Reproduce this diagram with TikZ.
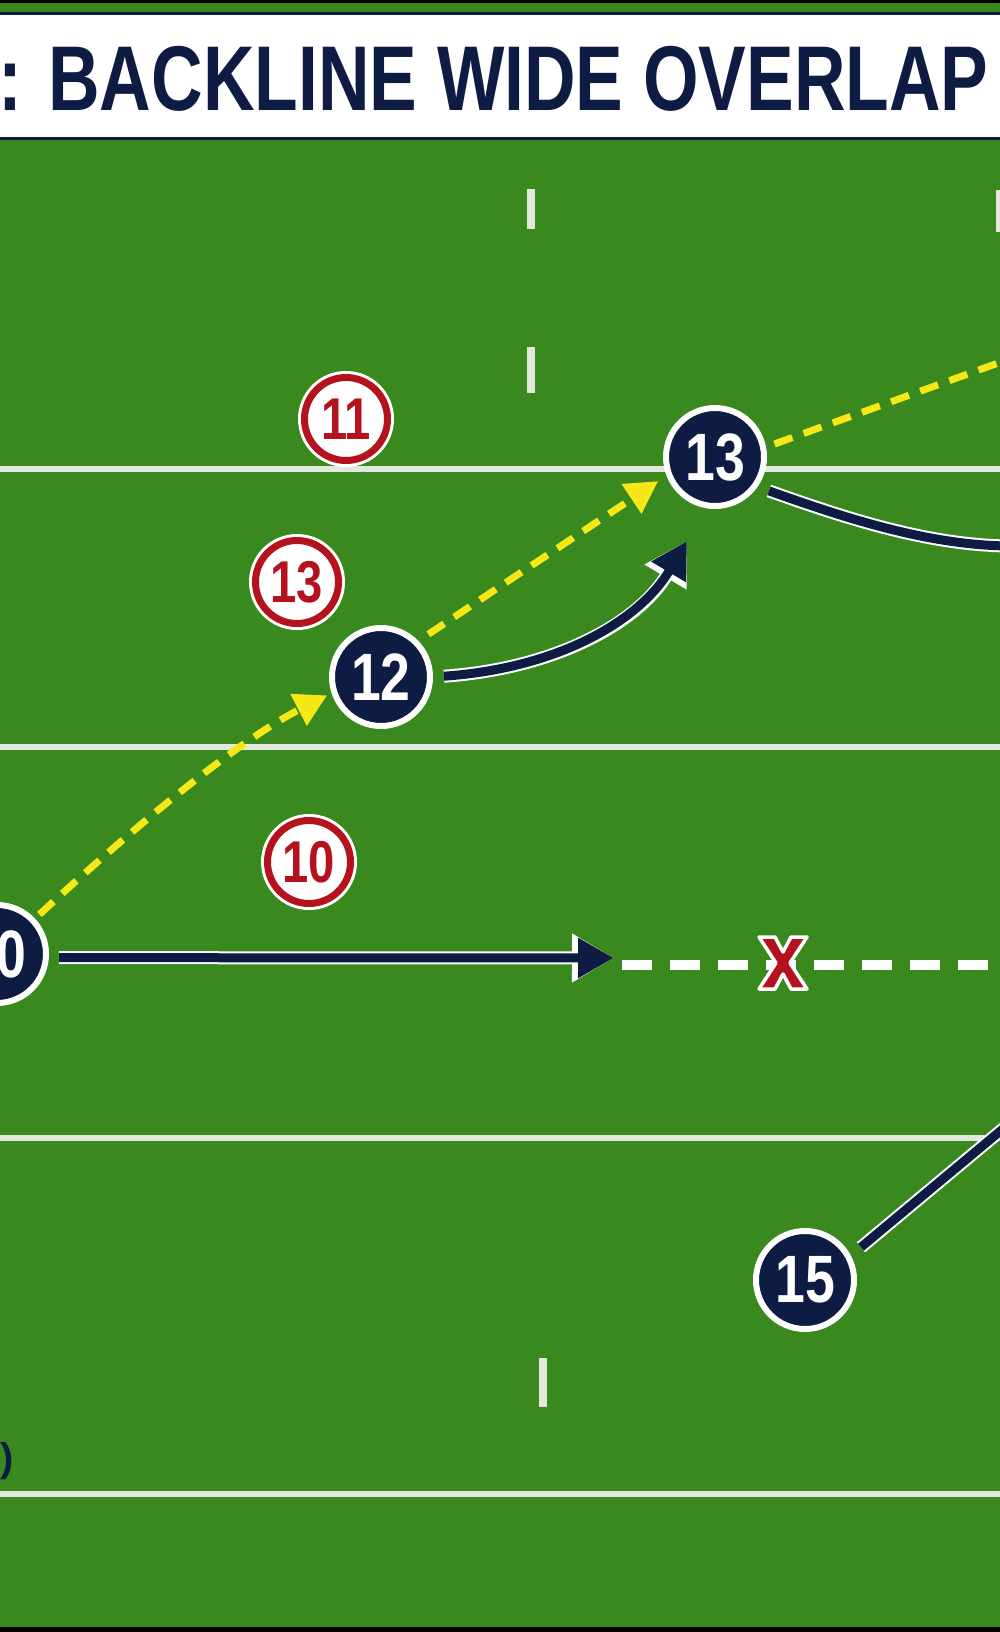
\documentclass[tikz,border=0pt]{standalone}
\usepackage{fontspec}
\setmainfont{Liberation Sans}
\usetikzlibrary{arrows.meta}

\definecolor{turf}{RGB}{57,137,30}
\definecolor{navy}{RGB}{14,27,66}
\definecolor{redteam}{RGB}{180,18,28}
\definecolor{passyellow}{RGB}{246,232,22}
\definecolor{chalk}{RGB}{226,232,220}

\newcommand{\narrownum}[1]{\scalebox{0.8}[1]{#1}}

\begin{document}
\begin{tikzpicture}[x=1pt,y=-1pt,
	attack/.style = {circle, fill=navy, draw=white, line width=6pt, inner sep=0pt,
		minimum size=98pt, text=white, font=\bfseries\fontsize{67}{67}\selectfont},
	defend/.style = {circle, fill=white, draw=redteam, line width=7pt, inner sep=0pt,
		minimum size=83pt, text=redteam, font=\bfseries\fontsize{59}{59}\selectfont,
		preaction={draw=white, line width=13pt}},
	pass/.style = {draw=passyellow, line width=7pt, dash pattern=on 19pt off 12pt},
	pass tip/.style = {-{Triangle[length=32pt,width=34pt]}},
	run/.style = {draw=navy, line width=9pt, preaction={draw=white, line width=13pt}},
	run arrow/.style = {draw=navy, line width=9pt, -{Triangle[length=36pt,width=38pt]},
		preaction={draw=white, line width=13pt, -{Triangle[length=42pt,width=46pt]}}},
	chalk line/.style = {draw=chalk, line width=6pt},
	touch dash/.style = {draw=white, line width=10pt, dash pattern=on 30pt off 18pt}]

	\useasboundingbox (0,0) rectangle (1000,1632);
	\clip (0,0) rectangle (1000,1632);

	% pitch
	\fill[turf] (0,0) rectangle (1000,1632);
	\foreach \y in {469,747,1138,1494}
		\draw[chalk line] (0,\y) -- (1000,\y);
	\foreach \x/\ya/\yb in {531/189/229, 531/347/393, 543/1358/1407, 1000/190/232}
		\fill[chalk] (\x-4,\ya) rectangle (\x+4,\yb);
	\fill[black] (0,0) rectangle (1000,3);
	\fill[black] (0,1627) rectangle (1000,1632);

	% title band
	\fill[white] (0,14) rectangle (1000,138);
	\draw[navy, line width=3pt] (0,13.5) -- (1000,13.5) (0,138.5) -- (1000,138.5);
	\node[anchor=base west, text=navy, inner sep=0pt, font=\bfseries\fontsize{92}{92}\selectfont]
		(title) at (-2,111) {\scalebox{0.776}[1]{: BACKLINE WIDE OVERLAP}};

	% players
	\node[defend] (d11) at (346,419) {\narrownum{11}};
	\node[defend] (d13) at (297,582) {\narrownum{13}};
	\node[defend] (d10) at (309,862) {\narrownum{10}};

	\node[attack] (p10) at (-3,954) {\narrownum{10}};
	\node[attack] (p12) at (381,677) {\narrownum{12}};
	\node[attack] (p13) at (715,457) {\narrownum{13}};
	\node[attack] (p15) at (805,1280) {\narrownum{15}};

	\coordinate (runend) at (614,958);
	\coordinate (gapstart) at (622,965);
	\coordinate (touch) at (1012,965);
	\coordinate (t13) at (687,541);
	\coordinate (e13) at (1012,358);
	\coordinate (e13run) at (1012,546);
	\coordinate (e15) at (1016,1118);

	% passes
	\draw[pass, pass tip, shorten <=6pt, shorten >=5pt]
		(p10.43) .. controls (120,840) and (230,745) .. (p12.198);
	\draw[pass, pass tip, shorten <=12pt, shorten >=10pt] (p12.44) -- (p13.201);
	\draw[pass, shorten <=9pt] (p13.11) -- (e13);

	% runs
	\draw[run arrow, shorten <=10pt] (p10.-4) -- (runend);
	\draw[touch dash] (gapstart) -- (touch);
	\draw[run arrow, shorten <=11pt] (p12.0) .. controls (560,668) and (640,620) .. (t13);
	\draw[run, shorten <=12pt] (p13.-35) .. controls (845,518) and (930,546) .. (e13run);
	\draw[run, shorten <=13pt] (p15.28) -- (e15);

	% tackle mark
	\filldraw[fill=redteam, draw=white, line width=3.5pt, line join=round, shift={(783,963)}]
		(-24,-26) -- (-8,-26) -- (0,-11) -- (8,-26) -- (24,-26) -- (7,0) -- (24,26)
		-- (8,26) -- (0,11) -- (-8,26) -- (-24,26) -- (-7,0) -- cycle;

	\node[anchor=east, inner sep=0pt, text=navy, font=\bfseries\fontsize{40}{40}\selectfont]
		(bracket) at (14,1461) {)};
\end{tikzpicture}
\end{document}
